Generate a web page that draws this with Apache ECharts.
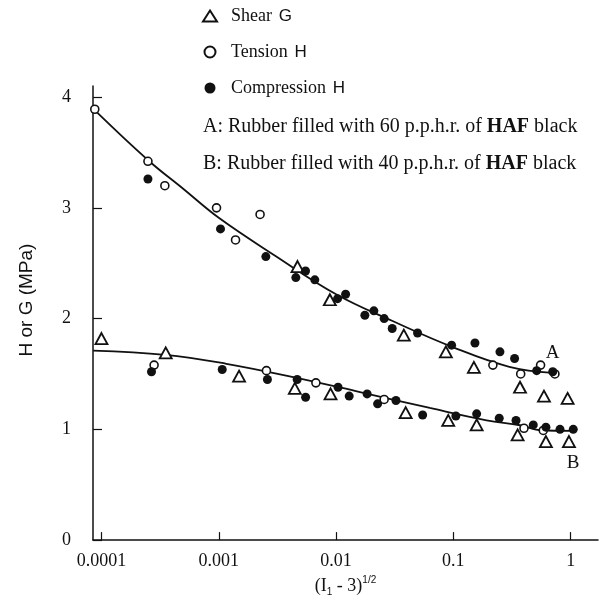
<!DOCTYPE html>
<html>
<head>
<meta charset="utf-8">
<script src="https://cdn.jsdelivr.net/npm/echarts@6/dist/echarts.min.js"></script>
<style>html,body{margin:0;padding:0;background:#fff;}#c{width:608px;height:602px;}</style>
</head>
<body>
<div id="c"></div>
<script>
// ---- data (x = (I1-3)^1/2, y = H or G in MPa) ----
const xTicks = [0.0001, 0.001, 0.01, 0.1, 1];
const xTickLabels = ['0.0001', '0.001', '0.01', '0.1', '1'];
const yTicks = [0, 1, 2, 3, 4];

const shearX = [0.00469, 0.00885, 0.0378, 0.0863, 0.1496, 0.37, 0.592, 0.942,
                0.0001, 0.000353, 0.00149, 0.00445, 0.00897, 0.0392, 0.0904, 0.158, 0.353, 0.615, 0.967];
const shearY = [2.47, 2.17, 1.85, 1.70, 1.56, 1.38, 1.30, 1.28,
                1.82, 1.69, 1.48, 1.37, 1.32, 1.15, 1.08, 1.04, 0.95, 0.89, 0.89];

const tensionX = [0.0000877, 0.000249, 0.000347, 0.000957, 0.00139, 0.00225, 0.2172, 0.375, 0.554, 0.734,
                  0.000281, 0.00255, 0.00673, 0.0257, 0.40, 0.584];
const tensionY = [3.89, 3.42, 3.20, 3.00, 2.71, 2.94, 1.58, 1.50, 1.58, 1.50,
                  1.58, 1.53, 1.42, 1.27, 1.01, 0.99];

const compX = [0.000249, 0.001035, 0.00252, 0.00454, 0.00549, 0.00659, 0.0103, 0.01206, 0.0176, 0.021,
               0.0257, 0.0301, 0.0495, 0.0966, 0.1528, 0.2495, 0.3327, 0.513, 0.703,
               0.000267, 0.00107, 0.0026, 0.00466, 0.0055, 0.0104, 0.01294, 0.0184, 0.0226, 0.0324,
               0.0547, 0.105, 0.158, 0.246, 0.342, 0.48, 0.615, 0.811, 1.052];
const compY = [3.26, 2.81, 2.56, 2.37, 2.43, 2.35, 2.18, 2.22, 2.03, 2.07,
               2.00, 1.91, 1.87, 1.76, 1.78, 1.70, 1.64, 1.53, 1.52,
               1.52, 1.54, 1.45, 1.45, 1.29, 1.38, 1.30, 1.32, 1.23, 1.26,
               1.13, 1.12, 1.14, 1.10, 1.08, 1.04, 1.02, 1.00, 1.00];

const curveAX = [0.000088, 0.00025, 0.0005, 0.001, 0.003, 0.01, 0.03, 0.1, 0.3, 0.7];
const curveAY = [3.88, 3.43, 3.17, 2.91, 2.57, 2.22, 1.98, 1.74, 1.565, 1.51];
const curveBX = [0.000085, 0.00035, 0.00116, 0.0043, 0.016, 0.063, 0.192, 0.37, 0.547, 1.05];
const curveBY = [1.711, 1.673, 1.592, 1.472, 1.337, 1.193, 1.082, 1.037, 0.992, 0.986];

const seriesNames = ['Shear G', 'Tension H', 'Compression H'];
const noteA = 'A: Rubber filled with 60 p.p.h.r. of ';
const noteB = 'B: Rubber filled with 40 p.p.h.r. of ';

// ---- build ----
const zip = (xs, ys) => xs.map((x, i) => [x, ys[i]]);
const serif = 'Liberation Serif';
const sans = 'Liberation Sans';
const ink = '#111';

function curveData(xs, ys, tag, pos, dist) {
  const d = zip(xs, ys);
  const last = d.length - 1;
  d[last] = { value: d[last], label: { show: true, position: pos, distance: dist, formatter: tag,
    fontFamily: serif, fontSize: 19, color: ink } };
  return d;
}

const chart = echarts.init(document.getElementById('c'), null, { renderer: 'canvas' });
chart.setOption({
  backgroundColor: '#fff',
  animation: false,
  grid: { left: 93, right: 10, top: 86, bottom: 60 },
  xAxis: {
    type: 'log', min: 0.0000847, max: 1.71,
    name: '{n|(I}{sub|1}{n| - 3)}{sup|1/2}',
    nameLocation: 'middle', nameGap: 27,
    nameTextStyle: { rich: {
      n: { fontFamily: serif, fontSize: 18, color: ink, lineHeight: 22 },
      sub: { fontFamily: sans, fontSize: 10, color: ink, verticalAlign: 'bottom', lineHeight: 22 },
      sup: { fontFamily: sans, fontSize: 10, color: ink, verticalAlign: 'top', lineHeight: 22 }
    } },
    axisLine: { lineStyle: { color: ink, width: 1.5 } },
    axisTick: { inside: true, length: 8, customValues: xTicks, lineStyle: { color: ink, width: 1.2 } },
    minorTick: { show: false },
    axisLabel: { customValues: xTicks, margin: 12, fontFamily: serif, fontSize: 18, color: ink,
      formatter: v => { const i = xTicks.findIndex(t => Math.abs(Math.log10(t) - Math.log10(v)) < 1e-6); return i >= 0 ? xTickLabels[i] : ''; } },
    splitLine: { show: false }
  },
  yAxis: {
    type: 'value', min: 0, max: 4.1,
    name: 'H or G (MPa)', nameLocation: 'middle', nameGap: 57, nameRotate: 90,
    nameTextStyle: { fontFamily: sans, fontSize: 19, color: ink, padding: [0, 0, 0, 26] },
    axisLine: { show: true, lineStyle: { color: ink, width: 1.5 } },
    axisTick: { show: true, inside: true, length: 9, customValues: yTicks, lineStyle: { color: ink, width: 1.2 } },
    axisLabel: { customValues: yTicks, margin: 22, fontFamily: serif, fontSize: 18, color: ink },
    splitLine: { show: false }
  },
  legend: {
    orient: 'vertical', left: 197, top: 2, itemGap: 18, itemWidth: 14, itemHeight: 11,
    data: seriesNames,
    formatter: name => { const i = name.lastIndexOf(' '); return '{s|' + name.slice(0, i) + '}  {g|' + name.slice(i + 1) + '}'; },
    textStyle: { padding: [0, 0, 0, 9], rich: {
      s: { fontFamily: serif, fontSize: 18, color: ink },
      g: { fontFamily: sans, fontSize: 17, color: ink }
    } }
  },
  graphic: [
    { type: 'text', left: 203, top: 117, style: { text: '{t|' + noteA + '}{b|HAF}{t| black}',
      rich: { t: { fontFamily: serif, fontSize: 20, fill: ink }, b: { fontFamily: serif, fontSize: 20, fontWeight: 'bold', fill: ink } } } },
    { type: 'text', left: 203, top: 154, style: { text: '{t|' + noteB + '}{b|HAF}{t| black}',
      rich: { t: { fontFamily: serif, fontSize: 20, fill: ink }, b: { fontFamily: serif, fontSize: 20, fontWeight: 'bold', fill: ink } } } }
  ],
  series: [
    { type: 'line', data: curveData(curveAX, curveAY, 'A', 'top', 10), smooth: 0.4, symbol: 'circle', symbolSize: 0, showSymbol: true,
      itemStyle: { color: ink }, lineStyle: { color: ink, width: 1.8 }, z: 1, silent: true },
    { type: 'line', data: curveData(curveBX, curveBY, 'B', 'bottom', 23), smooth: 0.4, symbol: 'circle', symbolSize: 0, showSymbol: true,
      itemStyle: { color: ink }, lineStyle: { color: ink, width: 1.8 }, z: 1, silent: true },
    { name: seriesNames[0], type: 'scatter', data: zip(shearX, shearY), symbol: 'triangle', symbolSize: [12, 11],
      itemStyle: { color: '#fff', borderColor: ink, borderWidth: 1.8, opacity: 1 }, z: 3 },
    { name: seriesNames[1], type: 'scatter', data: zip(tensionX, tensionY), symbol: 'circle', symbolSize: 8,
      itemStyle: { color: '#fff', borderColor: ink, borderWidth: 1.6, opacity: 1 }, z: 3 },
    { name: seriesNames[2], type: 'scatter', data: zip(compX, compY), symbol: 'circle', symbolSize: 9,
      itemStyle: { color: ink, opacity: 1 }, z: 4 }
  ]
});
</script>
</body>
</html>
